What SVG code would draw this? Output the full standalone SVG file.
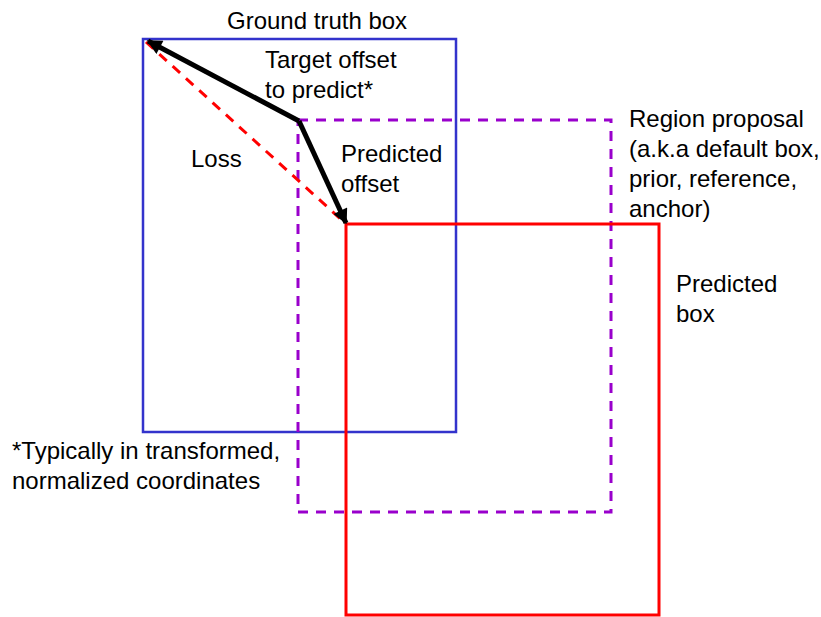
<svg xmlns="http://www.w3.org/2000/svg" width="821" height="617" viewBox="0 0 821 617">
  <defs>
    <marker id="head" viewBox="0 0 10 10" refX="9" refY="5" markerWidth="3.6" markerHeight="3" orient="auto" markerUnits="strokeWidth">
      <path d="M0,0 L10,5 L0,10 z" fill="#000"/>
    </marker>
    <style>
      text { font-family: "Liberation Sans", Arial, sans-serif; font-size: 24px; fill: #000; }
      .gt { fill: none; stroke: #3333cc; stroke-width: 2.5; }
      .rp { fill: none; stroke: #9900cc; stroke-width: 3; stroke-dasharray: 10 8; }
      .pb { fill: none; stroke: #ff0000; stroke-width: 3; }
      .offset { fill: none; stroke: #000; stroke-width: 5; marker-end: url(#head); }
      .loss { fill: none; stroke: #ff0000; stroke-width: 3; stroke-dasharray: 10 8; }
    </style>
  </defs>
  <rect width="821" height="617" fill="#fff"/>

  <g id="ground-truth-box">
    <rect class="gt" x="143" y="39" width="313" height="393"/>
    <text x="227" y="29">Ground truth box</text>
  </g>

  <g id="region-proposal">
    <rect class="rp" x="298" y="120" width="313" height="392"/>
    <text x="629" y="127">Region proposal</text>
    <text x="629" y="157">(a.k.a default box,</text>
    <text x="629" y="187">prior, reference,</text>
    <text x="629" y="217">anchor)</text>
  </g>

  <g id="predicted-box">
    <rect class="pb" x="346" y="224" width="313" height="391"/>
    <text x="676" y="292">Predicted</text>
    <text x="676" y="322">box</text>
  </g>

  <g id="connectors">
    <line class="loss" x1="146" y1="42" x2="345" y2="223"/>
    <line class="offset" x1="299" y1="121" x2="148" y2="41"/>
    <line class="offset" x1="299" y1="121" x2="346" y2="223"/>
  </g>

  <g id="labels">
    <text x="265" y="68">Target offset</text>
    <text x="265" y="98">to predict*</text>
    <text x="191" y="167">Loss</text>
    <text x="341" y="162">Predicted</text>
    <text x="341" y="192">offset</text>
    <text x="12" y="459">*Typically in transformed,</text>
    <text x="12" y="489">normalized coordinates</text>
  </g>
</svg>
